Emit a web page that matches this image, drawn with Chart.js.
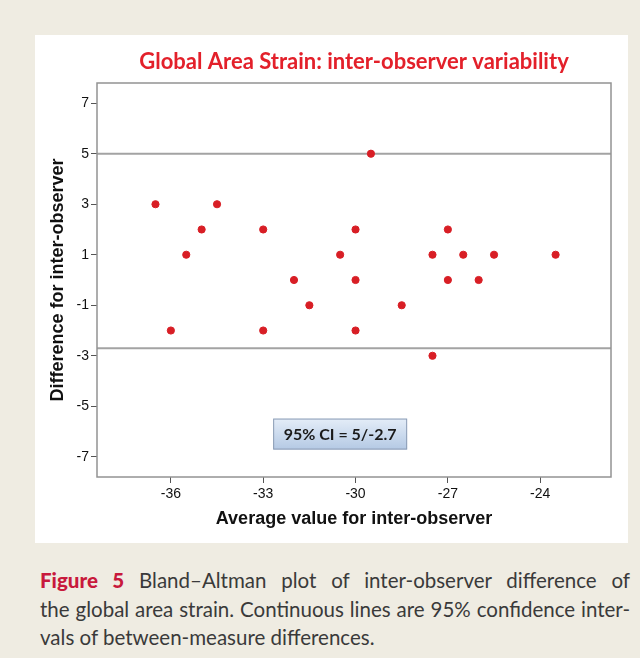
<!DOCTYPE html>
<html>
<head>
<meta charset="utf-8">
<script src="https://cdn.jsdelivr.net/npm/chart.js@4.4.1/dist/chart.umd.min.js"></script>
<style>
  html, body { margin: 0; padding: 0; }
  body { width: 640px; height: 658px; background: #efece2; position: relative; overflow: hidden; }
  #panel { position: absolute; left: 35px; top: 35px; width: 593px; height: 508px; background: #fff; }
  #caption { position: absolute; left: 40px; top: 566px; width: 590px; font-family: Lato, "Open Sans", sans-serif; font-size: 20.5px; line-height: 28.5px; color: #3a3a3a; }
  #caption div { text-align: justify; text-align-last: justify; white-space: nowrap; }
  #caption div.last { text-align-last: left; }
  #caption b { color: #c8193c; font-weight: 900; }
</style>
</head>
<body>
<div id="panel"><canvas id="chart" width="593" height="508"></canvas></div>
<div id="caption">
  <div><b>Figure 5</b> Bland–Altman plot of inter-observer difference of</div>
  <div>the global area strain. Continuous lines are 95% confidence inter-</div>
  <div class="last">vals of between-measure differences.</div>
</div>
<script>
  // average of the two observers / difference between them
  const avgValues = [-36.5, -36, -35.5, -35, -34.5, -33, -33, -32, -31.5, -30.5, -30, -30, -30, -29.5, -28.5, -27.5, -27.5, -27, -27, -26.5, -26, -25.5, -23.5];
  const diffValues = [3, -2, 1, 2, 3, 2, -2, 0, -1, 1, 2, 0, -2, 5, -1, 1, -3, 2, 0, 1, 0, 1, 1];

  const ciUpper = 5;
  const ciLower = -2.7;
  const ciText = "95% CI = 5/-2.7";
  const ciLabelAt = { x: -30.5, y: -6.1 };

  const xTicks = [-36, -33, -30, -27, -24];
  const yTicks = [-7, -5, -3, -1, 1, 3, 5, 7];
  const X_MIN = -38.4, X_MAX = -21.7;
  const Y_MIN = -7.8, Y_MAX = 7.8;

  Chart.defaults.font.family = "'Liberation Sans', Arial, sans-serif";
  Chart.defaults.color = "#1a1a1a";

  const points = avgValues.map((x, i) => ({ x, y: diffValues[i] }));

  const frame = {
    id: "frame",
    afterDatasetsDraw(chart) {
      const { ctx, chartArea: a, scales } = chart;
      ctx.save();
      ctx.strokeStyle = "#939393";
      ctx.lineWidth = 1.5;
      ctx.strokeRect(a.left, a.top, a.right - a.left, a.bottom - a.top);

      // CI label box
      const cx = scales.x.getPixelForValue(ciLabelAt.x);
      const cy = scales.y.getPixelForValue(ciLabelAt.y);
      const w = 134, h = 31;
      const g = ctx.createLinearGradient(0, cy - h / 2, 0, cy + h / 2);
      g.addColorStop(0, "#e4edf8");
      g.addColorStop(1, "#b4c9e4");
      ctx.fillStyle = g;
      ctx.fillRect(cx - w / 2, cy - h / 2, w, h);
      ctx.strokeStyle = "#8c9db5";
      ctx.lineWidth = 1;
      ctx.strokeRect(cx - w / 2 + 0.5, cy - h / 2 + 0.5, w - 1, h - 1);
      ctx.fillStyle = "#1a1a1a";
      ctx.font = "bold 16px Lato, sans-serif";
      ctx.textAlign = "center";
      ctx.textBaseline = "middle";
      ctx.fillText(ciText, cx, cy + 1);
      ctx.restore();
    },
  };

  new Chart(document.getElementById("chart"), {
    type: "scatter",
    data: {
      datasets: [
        {
          data: points,
          backgroundColor: "#d81e25",
          borderColor: "#d81e25",
          pointRadius: 3.6,
          pointHoverRadius: 3.6,
        },
        {
          type: "line",
          data: [{ x: X_MIN, y: ciUpper }, { x: X_MAX, y: ciUpper }],
          borderColor: "#a3a3a3",
          borderWidth: 2,
          pointRadius: 0,
        },
        {
          type: "line",
          data: [{ x: X_MIN, y: ciLower }, { x: X_MAX, y: ciLower }],
          borderColor: "#a3a3a3",
          borderWidth: 2,
          pointRadius: 0,
        },
      ],
    },
    options: {
      responsive: false,
      animation: false,
      layout: {
        padding: { top: 0, left: 0, right: 17, bottom: 0 },
      },
      scales: {
        x: {
          type: "linear",
          min: X_MIN,
          max: X_MAX,
          afterBuildTicks: (scale) => {
            scale.ticks = xTicks.map((v) => ({ value: v }));
          },
          afterFit: (scale) => {
            scale.height = 66;
          },
          grid: {
            drawOnChartArea: false,
            drawTicks: true,
            tickLength: 6,
            color: "#555",
          },
          border: {
            display: false,
          },
          ticks: {
            padding: 3,
            font: { size: 14 },
            color: "#111",
          },
          title: {
            display: true,
            text: "Average value for inter-observer",
            font: { size: 18, weight: "bold" },
            color: "#111",
            padding: { top: 0, bottom: 13 },
          },
        },
        y: {
          min: Y_MIN,
          max: Y_MAX,
          afterBuildTicks: (scale) => {
            scale.ticks = yTicks.map((v) => ({ value: v }));
          },
          afterFit: (scale) => {
            scale.width = 62;
          },
          grid: {
            drawOnChartArea: false,
            drawTicks: true,
            tickLength: 6,
            color: "#555",
          },
          border: {
            display: false,
          },
          ticks: {
            padding: 2,
            font: { size: 14 },
            color: "#111",
          },
          title: {
            display: true,
            text: "Difference for inter-observer",
            font: { size: 18, weight: "bold" },
            color: "#111",
            padding: { top: 12, bottom: 0 },
          },
        },
      },
      plugins: {
        legend: { display: false },
        tooltip: { enabled: false },
        title: {
          display: true,
          text: "Global Area Strain: inter-observer variability",
          fullSize: false,
          color: "#e3202a",
          font: { family: "Lato, sans-serif", size: 22, weight: "bold" },
          padding: { top: 13.8, bottom: 7.8 },
        },
      },
    },
    plugins: [frame],
  });
</script>
</body>
</html>
